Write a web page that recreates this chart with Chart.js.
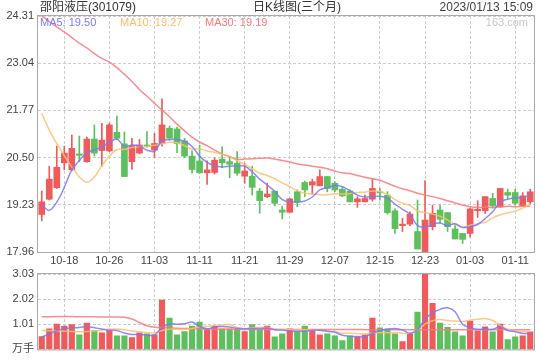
<!DOCTYPE html>
<html>
<head>
<meta charset="utf-8">
<script src="https://cdn.jsdelivr.net/npm/chart.js@4.4.1/dist/chart.umd.min.js"></script>
<style>
  html, body { margin: 0; background: #fff; overflow: hidden; }
  #wrap { position: relative; width: 540px; height: 360px; }
  #price { position: absolute; left: 0; top: 0; }
  #vol { position: absolute; left: 0; top: 262px; }
</style>
</head>
<body>
<div id="wrap">
  <canvas id="price" width="540" height="270"></canvas>
  <canvas id="vol" width="540" height="98"></canvas>
</div>
<script>
const FONT = '"Liberation Sans", "Noto Sans CJK SC", sans-serif';

// trading days, 2022-10-13 .. 2023-01-13
const dates = [
  '10-13','10-14','10-17','10-18','10-19','10-20','10-21','10-24','10-25','10-26','10-27','10-28','10-31',
  '11-01','11-02','11-03','11-04','11-07','11-08','11-09','11-10','11-11','11-14','11-15','11-16','11-17','11-18',
  '11-21','11-22','11-23','11-24','11-25','11-28','11-29','11-30',
  '12-01','12-02','12-05','12-06','12-07','12-08','12-09','12-12','12-13','12-14','12-15','12-16','12-19','12-20',
  '12-21','12-22','12-23','12-26','12-27','12-28','12-29','12-30',
  '01-03','01-04','01-05','01-06','01-09','01-10','01-11','01-12','01-13'
];
const tickDates = ['10-18','10-26','11-03','11-11','11-21','11-29','12-07','12-15','12-23','01-03','01-11'];
const priceTicks = [17.96, 19.23, 20.50, 21.77, 23.04, 24.31];
const volTicks = [0, 1.01, 2.02, 3.03];

const open = [
  18.97,19.38,19.69,20.36,20.17,20.60,20.39,21.00,20.69,20.68,21.18,20.87,20.39,20.62,20.84,20.70,20.88,21.29,21.27,20.95,
  20.54,20.41,20.09,20.10,20.46,20.39,20.35,20.00,20.00,19.60,19.45,19.60,19.09,19.03,19.58,19.83,19.76,19.74,19.99,19.81,
  19.65,19.60,19.31,19.31,19.38,19.56,19.49,19.07,18.67,18.71,18.51,17.97,18.64,19.09,19.02,18.58,18.46,18.46,19.07,19.07,
  19.40,19.18,19.56,19.56,19.20,19.31
];
const high = [
  19.60,20.27,20.81,20.81,21.11,21.08,21.05,21.38,21.42,21.43,21.62,21.19,21.02,20.99,21.20,21.15,22.08,21.35,21.32,21.02,
  20.68,20.84,20.41,20.49,20.79,20.52,20.66,20.35,20.27,19.67,19.81,19.60,19.20,19.40,19.63,19.87,19.92,20.17,19.99,19.85,
  19.72,19.63,19.45,19.49,19.94,19.67,19.58,19.12,18.87,19.04,19.36,19.88,19.22,19.22,19.02,18.69,18.46,19.14,19.34,19.45,
  19.54,19.67,19.65,19.65,19.56,19.65
];
const low = [
  18.80,19.36,19.67,20.17,20.15,20.39,20.37,20.54,20.27,20.66,20.98,19.99,20.18,20.60,20.78,20.51,20.81,20.97,20.63,20.50,
  20.08,20.08,19.78,20.06,20.23,19.96,20.03,19.81,19.49,19.00,19.42,19.20,18.85,19.03,19.18,19.45,19.51,19.74,19.58,19.58,
  19.45,19.31,19.16,19.31,19.33,19.36,18.98,18.46,18.51,18.67,18.04,17.96,18.55,18.73,18.51,18.31,18.19,18.36,18.89,19.00,
  19.14,19.16,19.40,19.22,19.20,19.25
];
const close = [
  19.31,19.92,20.24,20.62,20.75,20.56,21.00,20.62,20.97,21.38,21.02,19.99,20.83,20.84,20.80,20.88,21.38,21.02,20.88,20.54,
  20.18,20.09,20.17,20.43,20.36,20.32,20.08,20.14,19.70,19.34,19.52,19.27,19.03,19.39,19.31,19.63,19.85,19.99,19.67,19.63,
  19.47,19.31,19.39,19.40,19.67,19.55,19.02,18.59,18.71,18.98,18.04,18.82,19.00,18.84,18.64,18.31,18.30,19.12,19.11,19.45,
  19.20,19.67,19.49,19.27,19.47,19.58
];

const ma5 = [
  19.22,19.08,19.30,19.70,20.17,20.42,20.63,20.71,20.78,20.91,21.00,20.80,20.84,20.81,20.70,20.67,20.95,20.98,20.99,20.94,
  20.80,20.54,20.37,20.28,20.25,20.27,20.27,20.27,20.12,19.92,19.76,19.59,19.37,19.31,19.30,19.33,19.44,19.63,19.69,19.75,
  19.72,19.61,19.49,19.44,19.45,19.46,19.41,19.25,19.11,18.97,18.67,18.63,18.71,18.74,18.67,18.72,18.62,18.64,18.70,18.86,
  19.04,19.31,19.38,19.42,19.42,19.50
];
const ma10 = [
  21.69,21.24,20.88,20.55,20.25,19.98,19.84,19.98,20.28,20.54,20.71,20.72,20.77,20.80,20.80,20.83,20.87,20.91,20.90,20.82,
  20.73,20.74,20.68,20.64,20.59,20.54,20.41,20.32,20.20,20.08,20.02,19.93,19.82,19.72,19.61,19.54,19.52,19.50,19.50,19.53,
  19.52,19.53,19.56,19.57,19.60,19.59,19.51,19.37,19.27,19.21,19.07,19.02,18.98,18.92,18.82,18.70,18.62,18.68,18.72,18.76,
  18.88,18.96,19.01,19.06,19.14,19.27
];
const ma30 = [
  24.31,24.16,24.02,23.88,23.73,23.58,23.45,23.30,23.17,23.07,22.92,22.74,22.55,22.33,22.15,21.96,21.78,21.60,21.40,21.22,
  21.05,20.92,20.82,20.70,20.60,20.52,20.45,20.46,20.47,20.48,20.49,20.46,20.42,20.38,20.33,20.30,20.27,20.24,20.20,20.14,
  20.09,20.07,20.02,19.97,19.93,19.89,19.81,19.73,19.66,19.61,19.54,19.49,19.45,19.40,19.34,19.28,19.22,19.18,19.16,19.17,
  19.16,19.17,19.19,19.18,19.19,19.19
];

// volume, 万手
const volume = [
  0.52,0.83,1.02,0.94,1.00,0.59,1.06,0.76,0.67,0.76,0.55,0.55,0.47,0.67,0.63,0.59,1.98,1.26,0.59,0.72,
  0.94,1.10,0.80,0.94,0.83,0.83,0.83,0.72,1.00,0.80,0.94,0.51,0.63,0.83,0.72,0.94,0.75,0.59,0.63,0.55,
  0.35,0.55,0.51,0.59,1.26,0.87,0.83,0.63,0.31,0.63,1.50,3.03,1.85,1.06,0.89,0.71,0.55,1.14,0.75,0.91,
  0.71,1.02,0.39,0.51,0.55,0.71
];
const volMa5 = [
  0.50,0.62,0.75,0.84,0.86,0.88,0.92,0.87,0.82,0.77,0.76,0.66,0.60,0.60,0.57,0.58,0.87,1.03,1.01,1.03,
  1.10,0.92,0.83,0.90,0.92,0.90,0.85,0.83,0.84,0.84,0.86,0.79,0.78,0.74,0.73,0.73,0.77,0.77,0.73,0.69,
  0.57,0.53,0.52,0.51,0.65,0.76,0.81,0.84,0.78,0.65,0.78,1.22,1.46,1.61,1.67,1.51,1.01,0.87,0.81,0.81,
  0.81,0.91,0.76,0.71,0.64,0.64
];
const volMa10 = [
  0.76,0.75,0.74,0.73,0.72,0.71,0.72,0.74,0.78,0.82,0.82,0.79,0.74,0.71,0.67,0.67,0.76,0.81,0.81,0.80,
  0.84,0.90,0.93,0.96,0.98,1.00,0.88,0.83,0.87,0.88,0.88,0.82,0.80,0.79,0.78,0.79,0.78,0.77,0.73,0.71,
  0.65,0.65,0.64,0.62,0.67,0.67,0.67,0.68,0.65,0.65,0.77,1.02,1.15,1.20,1.16,1.14,1.12,1.17,1.21,1.24,
  1.16,0.96,0.81,0.76,0.72,0.72
];
const volMa30 = [
  1.31,1.31,1.32,1.32,1.32,1.31,1.31,1.31,1.30,1.30,1.30,1.29,1.22,1.08,0.95,0.89,0.88,0.87,0.85,0.84,
  0.83,0.82,0.82,0.81,0.81,0.81,0.80,0.80,0.80,0.80,0.80,0.80,0.80,0.80,0.80,0.80,0.80,0.80,0.80,0.80,
  0.80,0.80,0.80,0.79,0.79,0.79,0.79,0.79,0.79,0.79,0.79,0.79,0.79,0.79,0.79,0.79,0.79,0.79,0.79,0.79,
  0.79,0.79,0.79,0.79,0.79,0.79
];

const UP = '#ef5a5a', DOWN = '#5dbf5d';
const BLUE = 'rgba(120,120,255,0.85)', ORANGE = 'rgba(255,190,110,0.85)', PINK = 'rgba(255,120,120,0.85)';
const candleColors = close.map((c, i) => c >= open[i] ? UP : DOWN);
const tickIdx = tickDates.map(d => dates.indexOf(d));

Chart.defaults.font.family = FONT;
Chart.defaults.font.size = 11;
Chart.defaults.color = '#444';

const frame = {
  id: 'frame',
  afterDraw(chart) {
    const { ctx, chartArea: a } = chart;
    ctx.save();
    ctx.strokeStyle = '#aaa';
    ctx.lineWidth = 1;
    ctx.strokeRect(a.left - 0.5, a.top - 0.5, a.right - a.left + 1, a.bottom - a.top + 1);
    ctx.restore();
  }
};

const header = {
  id: 'header',
  afterDraw(chart) {
    const ctx = chart.ctx;
    ctx.save();
    ctx.textBaseline = 'middle';
    ctx.font = '12px ' + FONT;
    ctx.fillStyle = '#333';
    ctx.textAlign = 'left';
    ctx.fillText('邵阳液压(301079)', 40, 8);
    ctx.fillText('日K线图(三个月)', 253, 8);
    ctx.textAlign = 'right';
    ctx.fillStyle = '#444';
    ctx.fillText('2023/01/13 15:09', 533, 8);

    ctx.font = '11px ' + FONT;
    ctx.fillStyle = '#c8c8c8';
    ctx.fillText('163.com', 528, 23);
    ctx.textAlign = 'left';
    const n = close.length - 1;
    ctx.fillStyle = '#7a7aff';
    ctx.fillText('MA5: ' + ma5[n].toFixed(2), 40, 23);
    ctx.fillStyle = '#ffbb66';
    ctx.fillText('MA10: ' + ma10[n].toFixed(2), 120, 23);
    ctx.fillStyle = '#ff7777';
    ctx.fillText('MA30: ' + ma30[n].toFixed(2), 205, 23);
    ctx.restore();
  }
};

function maLine(data, color) {
  return {
    type: 'line', data, borderColor: color, borderWidth: 1.5,
    pointRadius: 0, tension: 0.35, fill: false, order: 0
  };
}

function xScale(height, showLabels) {
  return {
    type: 'category', offset: true,
    grid: { color: '#cdcdcd', offset: false, drawTicks: false },
    border: { display: false, dash: [3, 2] },
    ticks: { display: showLabels, autoSkip: false, maxRotation: 0, padding: 2, color: '#444' },
    afterBuildTicks: ax => { ax.ticks = tickIdx.map(v => ({ value: v })); },
    afterFit: ax => { ax.height = height; }
  };
}

new Chart(document.getElementById('price'), {
  type: 'bar',
  data: {
    labels: dates,
    datasets: [
      maLine(ma5, BLUE),
      maLine(ma10, ORANGE),
      maLine(ma30, PINK),
      { data: open.map((o, i) => [o, close[i]]), backgroundColor: candleColors,
        barThickness: 6, minBarLength: 1, grouped: false, order: 1 },
      { data: low.map((l, i) => [l, high[i]]), backgroundColor: candleColors,
        barThickness: 1, grouped: false, order: 2 }
    ]
  },
  options: {
    responsive: false, animation: false, devicePixelRatio: 1,
    layout: { padding: { top: 16, right: 6, left: 0, bottom: 0 } },
    plugins: { legend: { display: false }, tooltip: { enabled: false } },
    scales: {
      x: xScale(18, true),
      y: {
        min: 17.96, max: 24.31,
        grid: { color: '#cdcdcd', drawTicks: false },
        border: { display: false, dash: [3, 2] },
        ticks: { padding: 4, color: '#444', callback: v => v.toFixed(2) },
        afterBuildTicks: ax => { ax.ticks = priceTicks.map(v => ({ value: v })); },
        afterFit: ax => { ax.width = 38; }
      }
    }
  },
  plugins: [frame, header]
});

new Chart(document.getElementById('vol'), {
  type: 'bar',
  data: {
    labels: dates,
    datasets: [
      maLine(volMa5, BLUE),
      maLine(volMa10, ORANGE),
      maLine(volMa30, PINK),
      { data: volume, backgroundColor: candleColors, barThickness: 5.5, grouped: false, order: 1 }
    ]
  },
  options: {
    responsive: false, animation: false, devicePixelRatio: 1,
    layout: { padding: { top: 12, right: 6, left: 0, bottom: 0 } },
    plugins: { legend: { display: false }, tooltip: { enabled: false } },
    scales: {
      x: xScale(9, false),
      y: {
        min: 0, max: 3.03,
        grid: { color: '#cdcdcd', drawTicks: false },
        border: { display: false, dash: [3, 2] },
        ticks: { padding: 4, color: '#444', callback: v => v === 0 ? '万手' : v.toFixed(2) },
        afterBuildTicks: ax => { ax.ticks = volTicks.map(v => ({ value: v })); },
        afterFit: ax => { ax.width = 38; }
      }
    }
  },
  plugins: [frame]
});
</script>
</body>
</html>
